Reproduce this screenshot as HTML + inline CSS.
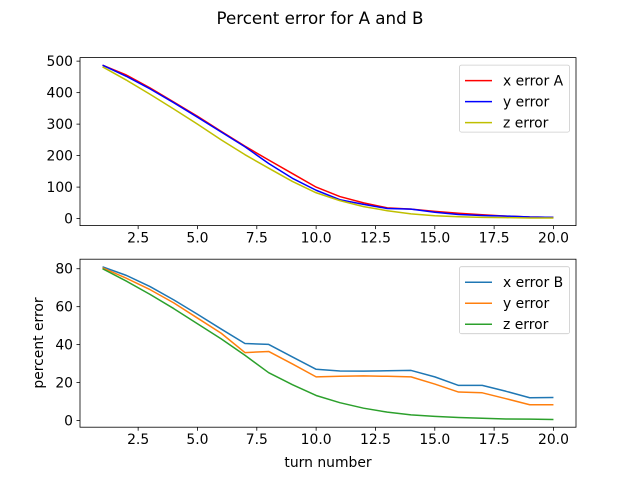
<!DOCTYPE html>
<html><head><meta charset="utf-8"><style>
body{margin:0;background:#fff}
svg text{font-family:"DejaVu Sans","Liberation Sans",sans-serif;font-size:13.9px;fill:#000}
</style></head><body>
<svg id="fig" width="640" height="480" xmlns="http://www.w3.org/2000/svg">
<text x="320" y="24" text-anchor="middle" style="font-size:16.7px">Percent error for A and B</text>
<text transform="translate(43,343) rotate(-90)" text-anchor="middle">percent error</text>
<text x="328" y="467" text-anchor="middle">turn number</text>
</svg>
<script>
const turns=[1,2,3,4,5,6,7,8,9,10,11,12,13,14,15,16,17,18,19,20];
const xErrA=[487,456,415,370,325,277,230,186,143,100,70,50,34,30,23,17,12,8,5,4];
const yErrA=[487,452,412,368,322,275,228,175,128,90,60,45,32,30,20,13,10,8,5,4];
const zErrA=[482,440,395,348,300,250,203,160,118,82,57,38,25,15,9,6,4,3,2,2];
const xErrB=[81,76.5,70.6,63.6,56,48.2,40.6,40.1,33.5,27,26.1,26,26.2,26.4,23,18.5,18.5,15.4,12,12.1];
const yErrB=[80.5,75,69,62,54,46,35.8,36.4,29.8,23,23.3,23.5,23.3,23,19.2,15,14.6,11.5,8.3,8.3];
const zErrB=[80,73.5,66.5,59,51,43,34.4,25.2,18.9,13.2,9.4,6.5,4.4,3,2.2,1.6,1.2,0.8,0.7,0.5];
const xTicks=[2.5,5.0,7.5,10.0,12.5,15.0,17.5,20.0];
const yTicksA=[0,100,200,300,400,500];
const yTicksB=[0,20,40,60,80];
const NS="http://www.w3.org/2000/svg";
const svg=document.getElementById('fig');
function mk(t,a,p){const e=document.createElementNS(NS,t);for(const k in a)e.setAttribute(k,a[k]);(p||svg).appendChild(e);return e;}
const L=80,R=576;
const xmin=Math.min(...turns),xmax=Math.max(...turns),xm=(xmax-xmin)*0.05;
function sx(v){return L+(v-(xmin-xm))/((xmax-xmin)+2*xm)*(R-L);}
function panel(name,top,bot,series,colors,labels,yt){
  const all=[].concat(...series);const lo=Math.min(...all),hi=Math.max(...all),m=(hi-lo)*0.05;
  const sy=v=>bot-(v-(lo-m))/((hi-lo)+2*m)*(bot-top);
  const g=mk('g',{});
  
  
  xTicks.forEach(t=>{const x=sx(t);
    const tk=mk('line',{x1:x,x2:x,y1:bot,y2:bot+3.5,stroke:'#000','stroke-width':0.8},g);
    
    
    const tx=mk('text',{x:x,y:bot+17,'text-anchor':'middle'},g);tx.textContent=t.toFixed(1);
    
    });
  yt.forEach(t=>{const y=sy(t);
    const tk=mk('line',{x1:L-3.5,x2:L,y1:y,y2:y,stroke:'#000','stroke-width':0.8},g);
    
    
    const tx=mk('text',{x:L-7,y:y+5,'text-anchor':'end'},g);tx.textContent=t;
    
    });
  series.forEach((s,i)=>{const d=s.map((v,j)=>(j?'L':'M')+sx(turns[j]).toFixed(2)+','+sy(v).toFixed(2)).join('');
    const p=mk('path',{d:d,fill:'none',stroke:colors[i],'stroke-width':1.5,'stroke-linejoin':'round'},g);
    
    });
  const fr=mk('rect',{x:L,y:top,width:R-L,height:bot-top,fill:'none',stroke:'#000','stroke-width':0.8},g);
  
  
  const lg=mk('g',{},g);
  
  
  mk('rect',{x:459.5,y:top+7.5,width:110,height:67,rx:2,fill:'#fff','fill-opacity':0.8,stroke:'#ccc','stroke-width':0.8},lg);
  labels.forEach((lb,i)=>{const y=top+23+i*21;
    const ln=mk('line',{x1:465,x2:492,y1:y,y2:y,stroke:colors[i],'stroke-width':1.5},lg);
    
    
    const tx=mk('text',{x:503,y:y+5},lg);tx.textContent=lb;
    
    });
}
panel('top-chart',57.6,225.6,[xErrA,yErrA,zErrA],['#ff0000','#0000ff','#bfbf00'],['x error A','y error','z error'],yTicksA);
panel('bottom-chart',259.2,427.2,[xErrB,yErrB,zErrB],['#1f77b4','#ff7f0e','#2ca02c'],['x error B','y error','z error'],yTicksB);
</script>
</body></html>
